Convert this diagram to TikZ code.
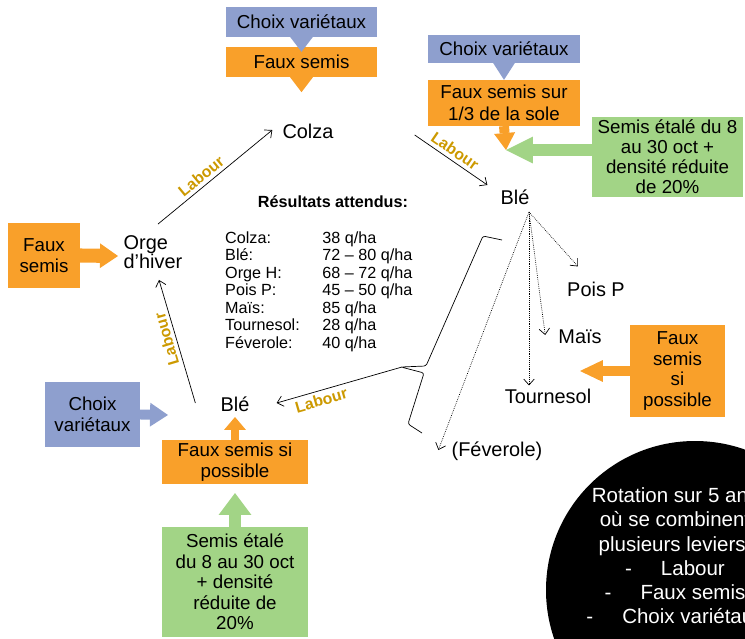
\documentclass[tikz,border=0pt]{standalone}
\usepackage{fontspec}
\setmainfont{Liberation Sans}
\usetikzlibrary{arrows.meta,calc}
\definecolor{lavender}{RGB}{142,159,206}
\definecolor{tangerine}{RGB}{249,160,42}
\definecolor{sage}{RGB}{162,212,134}
\definecolor{ochre}{RGB}{204,153,0}

\begin{document}
\begin{tikzpicture}[x=0.03cm,y=-0.03cm,
    crop/.style={inner sep=0pt,align=left,font=\fontsize{17}{16.5}\selectfont},
    box/.style={inner sep=0pt,align=center,font=\fontsize{16}{17.5}\selectfont},
    bluebox/.style={box,fill=lavender},
    orangebox/.style={box,fill=tangerine},
    greenbox/.style={box,fill=sage},
    flow/.style={line width=0.6pt,-{Straight Barb[length=5pt,width=9pt]}},
    option/.style={flow,densely dotted},
    labour/.style={sloped,inner sep=3pt,text=ochre,font=\fontsize{13.5}{15}\selectfont\bfseries},
    fat/.style args={#1/#2/#3}{line width=#1,-{Triangle[length=#2,width=#3,line width=0pt]}}
  ]
  \useasboundingbox (0,0) rectangle (745,639);
  \clip (0,0) rectangle (745,639);

  \node[crop] (colza) at (308,131) {Colza};
  \node[crop] (ble1) at (515,197) {Blé};
  \node[crop] (orge) at (153,252) {Orge\\d’hiver};
  \node[crop] (ble2) at (235,404) {Blé};
  \node[crop] (pois) at (596,289) {Pois P};
  \node[crop] (mais) at (580,337) {Maïs};
  \node[crop] (tourn) at (548,396) {Tournesol};
  \node[crop] (fev) at (497,451) {(Féverole)};

  \node[bluebox,minimum width=128.4pt,minimum height=25.5pt] (choixtop) at (301.5,22) {Choix variétaux};
  \node[orangebox,minimum width=128.4pt,minimum height=25.5pt] (fauxtop) at (301.5,62) {Faux semis};
  \node[bluebox,minimum width=129.2pt,minimum height=23.8pt] (choixright) at (504,49) {Choix variétaux};
  \node[orangebox,minimum width=129.2pt,minimum height=39.1pt,font=\fontsize{16}{18.7}\selectfont] (fauxright) at (504,103) {Faux semis sur\\1/3 de la sole};
  \node[greenbox,minimum width=128.4pt,minimum height=68pt,font=\fontsize{16}{17}\selectfont] (semisright) at (667.5,157) {Semis étalé du 8\\au 30 oct +\\densité réduite\\de 20\%};
  \node[orangebox,minimum width=61.2pt,minimum height=55.3pt] (fauxleft) at (44,255.5) {Faux\\semis};
  \node[bluebox,minimum width=80.8pt,minimum height=55.3pt] (choixleft) at (92.5,414.5) {Choix\\variétaux};
  \node[orangebox,minimum width=124.1pt,minimum height=37.4pt] (fauxbottom) at (235,462) {Faux semis si\\possible};
  \node[greenbox,minimum width=124.1pt,minimum height=93.5pt] (semisbottom) at (235,582) {Semis étalé\\du 8 au 30 oct\\+ densité\\réduite de\\20\%};
  \node[orangebox,minimum width=80.8pt,minimum height=78.2pt] (fauxsi) at (677.5,371) {Faux\\semis\\si\\possible};

  \coordinate (blein) at (506,150);
  \coordinate (orgein) at (118,256);
  \coordinate (ble2in) at (168,415);
  \coordinate (ble2up) at (235,417);
  \coordinate (fauxbin) at (235,493);
  \coordinate (cultin) at (580,371);
  \coordinate (fork) at (529,212);
  \coordinate (bracetip) at (402,367);

  \draw[fat=8.5pt/12.75pt/19.5pt,tangerine] (fauxtop.south) -- ($(fauxtop.south)+(0,15)$);
  \draw[fat=8.5pt/12.75pt/19.5pt,lavender] (choixtop.south) -- ($(fauxtop.north)+(0,5)$);
  \draw[fat=8.5pt/14.5pt/18.7pt,lavender] (choixright.south) -- (fauxright.north);
  \draw[fat=8.5pt/14.5pt/18pt,tangerine] (fauxright.south) -- (blein);
  \draw[fat=10pt/23pt/23pt,sage] (semisright.west |- blein) -- (blein);
  \draw[fat=12pt/15.3pt/21pt,tangerine] (fauxleft.east) -- (orgein);
  \draw[fat=8.5pt/15.3pt/20.4pt,lavender] (choixleft.east) -- (ble2in);
  \draw[fat=6pt/11pt/18.7pt,tangerine] (fauxbottom.north) -- (ble2up);
  \draw[fat=10pt/18.7pt/28pt,sage] (semisbottom.north) -- (fauxbin);
  \draw[fat=8.5pt/19.5pt/18.7pt,tangerine] (fauxsi.west) -- (cultin);

  \draw[flow] ($(orge.north)+(5,-11)$) -- node[labour,above,pos=0.43] {Labour} ($(colza.west)+(-10,-1)$);
  \draw[flow] ($(colza.east)+(81,4)$) -- node[labour,above,pos=0.48] {Labour} ($(ble1.west)+(-13,-12)$);
  \draw[flow] (bracetip) -- node[labour,below,pos=0.665] {Labour} ($(ble2.east)+(27,-1)$);
  \draw[flow] ($(ble2.west)+(-25,-1)$) -- node[labour,above,allow upside down,pos=0.54] {Labour} ($(orge.south)+(6,11)$);

  \draw[option] (fork) -- ($(pois.north west)+(11,-15)$);
  \draw[option] (fork) -- ($(mais.west)+(-13,-2)$);
  \draw[option] (fork) -- ($(fork |- tourn.north)+(0,-3)$);
  \draw[option] (fork) -- ($(fev.west)+(-13,-1)$);

  \draw[line width=0.6pt,rounded corners=2pt] (502,240) -- (483,236) -- (426,366) -- (401,367) -- (424,373) -- (408,424) -- (422,433);

  \node[font=\fontsize{13.8}{16}\selectfont\bfseries] (results) at (333,202) {Résultats attendus:};
  \node[anchor=north west,inner sep=0pt,font=\fontsize{13.8}{14.9}\selectfont] (yields) at (225,231) {%
    \begin{tabular}{@{}p{83pt}@{}l@{}}
      Colza: & 38 q/ha\\
      Blé: & 72 – 80 q/ha\\
      Orge H: & 68 – 72 q/ha\\
      Pois P: & 45 – 50 q/ha\\
      Maïs: & 85 q/ha\\
      Tournesol: & 28 q/ha\\
      Féverole: & 40 q/ha
    \end{tabular}};

  \fill[black] (695,590) circle[radius=149];
  \node[text=white,align=center,font=\fontsize{17.5}{20.7}\selectfont] (rotation) at (675,556)
    {Rotation sur 5 ans\\où se combinent\\plusieurs leviers:\\\makebox[30.6pt][l]{-}Labour\\\makebox[30.6pt][l]{-}Faux semis\\\makebox[30.6pt][l]{-}Choix variétaux};
\end{tikzpicture}
\end{document}
